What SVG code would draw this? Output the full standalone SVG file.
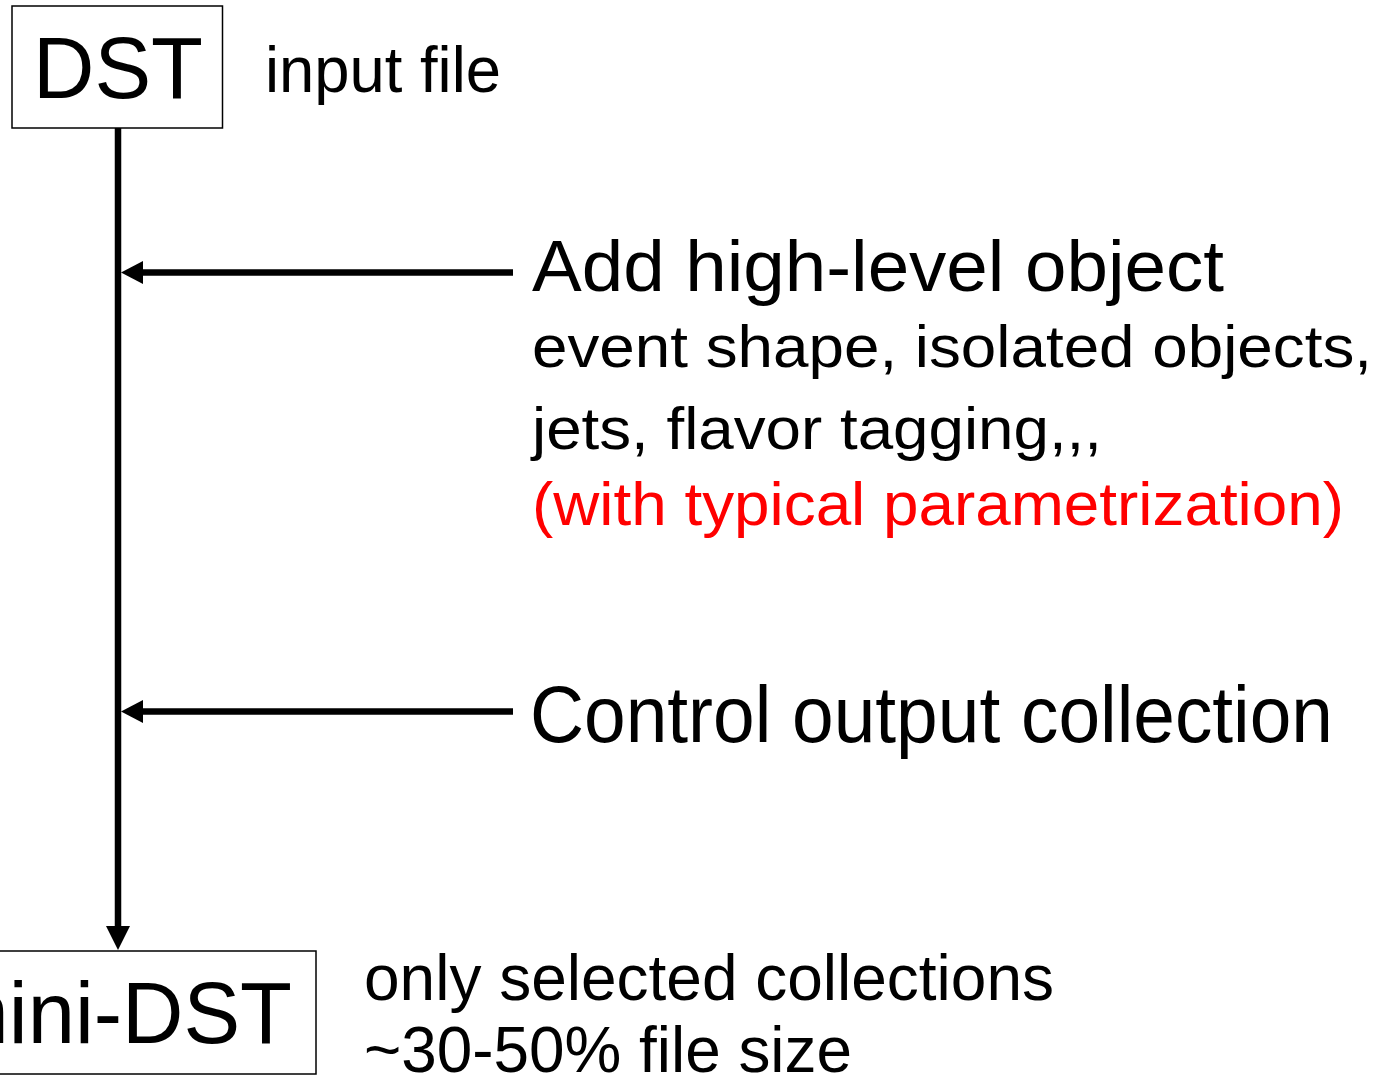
<svg xmlns="http://www.w3.org/2000/svg" width="1375" height="1077" viewBox="0 0 1375 1077">
<style>
text{font-family:"Liberation Sans",Arial,sans-serif;fill:#000}
.box{fill:#fff;stroke:#000;stroke-width:1.5}
.ln{stroke:#000;stroke-width:6.5;fill:none}
.red{fill:#f00}
</style>
<rect width="1375" height="1077" fill="#fff"/>
<g id="connectors">
<line class="ln" x1="118" y1="128" x2="118" y2="928"/>
<polygon points="106,926 130,926 118,950"/>
<line class="ln" x1="513" y1="272.5" x2="140" y2="272.5"/>
<polygon points="121,272.5 143,261 143,284"/>
<line class="ln" x1="513" y1="711.5" x2="140" y2="711.5"/>
<polygon points="121,711.5 143,700 143,723"/>
</g>
<g id="dst">
<rect class="box" x="12" y="6" width="210.5" height="122"/>
<text x="33" y="98" font-size="88" textLength="170" lengthAdjust="spacingAndGlyphs">DST</text>
</g>
<g id="input-label">
<text x="265" y="92" font-size="64" textLength="236" lengthAdjust="spacingAndGlyphs">input file</text>
</g>
<g id="add-label">
<text x="532" y="291" font-size="73" textLength="692" lengthAdjust="spacingAndGlyphs">Add high-level object</text>
<text x="532" y="367" font-size="60" textLength="840" lengthAdjust="spacingAndGlyphs">event shape, isolated objects,</text>
<text x="532" y="449" font-size="60" textLength="570" lengthAdjust="spacingAndGlyphs">jets, flavor tagging,,,</text>
<text class="red" x="532" y="525" font-size="62" textLength="812" lengthAdjust="spacingAndGlyphs">(with typical parametrization)</text>
</g>
<g id="control-label">
<text x="530" y="742" font-size="80" textLength="803" lengthAdjust="spacingAndGlyphs">Control output collection</text>
</g>
<g id="minidst">
<rect class="box" x="-20" y="951" width="336" height="123"/>
<text x="-62" y="1043" font-size="88" textLength="354" lengthAdjust="spacingAndGlyphs">mini-DST</text>
</g>
<g id="mini-label">
<text x="364" y="1000" font-size="65" textLength="690" lengthAdjust="spacingAndGlyphs">only selected collections</text>
<text x="364" y="1072" font-size="65" textLength="488" lengthAdjust="spacingAndGlyphs">~30-50% file size</text>
</g>
</svg>
